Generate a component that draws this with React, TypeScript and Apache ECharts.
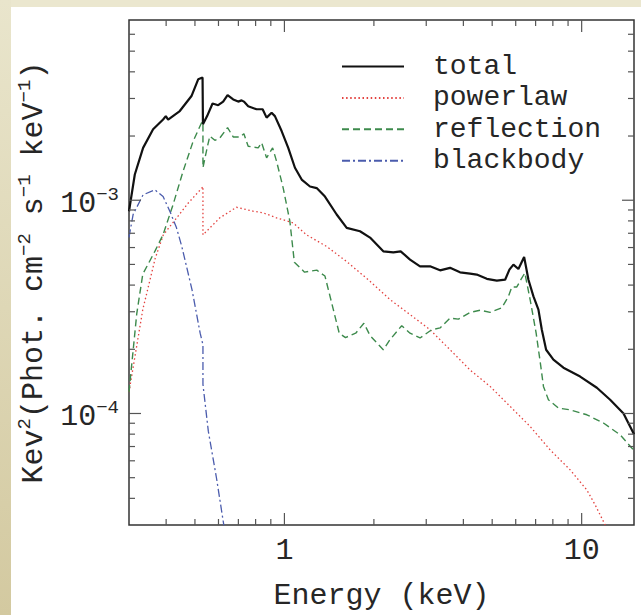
import React, { useEffect, useRef } from 'react';
import * as echarts from 'echarts';

const X_MIN = 0.3;
const X_MAX = 15;
const Y_MIN = 3e-5;
const Y_MAX = 7e-3;

const xMajorTicks = [1, 10];
const xMinorTicks = [0.4, 0.5, 0.6, 0.7, 0.8, 0.9, 2, 3, 4, 5, 6, 7, 8, 9];
const yMajorTicks = [1e-4, 1e-3];
const yMinorTicks = [
  4e-5, 5e-5, 6e-5, 7e-5, 8e-5, 9e-5,
  2e-4, 3e-4, 4e-4, 5e-4, 6e-4, 7e-4, 8e-4, 9e-4,
  2e-3, 3e-3, 4e-3, 5e-3, 6e-3,
];

const seriesNames = ['total', 'powerlaw', 'reflection', 'blackbody'];

const totalData: [number, number][] = [
  [0.3, 8.88e-4], [0.3138, 1.32e-3], [0.3346, 1.76e-3], [0.3616, 2.15e-3],
  [0.3907, 2.39e-3], [0.399, 2.48e-3], [0.4062, 2.39e-3], [0.4446, 2.62e-3],
  [0.4868, 3.08e-3], [0.5127, 3.69e-3], [0.5304, 3.76e-3], [0.532, 2.27e-3],
  [0.5495, 2.48e-3], [0.5731, 2.84e-3], [0.5986, 2.79e-3], [0.6222, 2.9e-3],
  [0.6438, 3.11e-3], [0.6725, 2.97e-3], [0.699, 2.9e-3], [0.7176, 2.94e-3],
  [0.7305, 2.9e-3], [0.7553, 2.76e-3], [0.806, 2.67e-3], [0.8447, 2.67e-3],
  [0.8711, 2.44e-3], [0.9055, 2.57e-3], [0.929, 2.48e-3], [0.9786, 2.11e-3],
  [1.03, 1.76e-3], [1.085, 1.42e-3], [1.143, 1.25e-3], [1.219, 1.16e-3],
  [1.284, 1.14e-3], [1.369, 1.04e-3], [1.499, 8.57e-4], [1.62, 7.42e-4],
  [1.796, 7.15e-4], [1.941, 6.68e-4], [2.151, 5.76e-4], [2.325, 5.7e-4],
  [2.461, 5.76e-4], [2.646, 5.27e-4], [2.859, 4.9e-4], [3.09, 4.9e-4],
  [3.339, 4.69e-4], [3.608, 4.82e-4], [3.898, 4.59e-4], [4.213, 4.53e-4],
  [4.437, 4.48e-4], [4.796, 4.28e-4], [5.183, 4.2e-4], [5.527, 4.24e-4],
  [5.714, 4.73e-4], [5.894, 4.99e-4], [6.127, 4.76e-4], [6.404, 5.42e-4],
  [6.622, 4.24e-4], [6.883, 3.54e-4], [7.154, 3.07e-4], [7.345, 2.47e-4],
  [7.594, 1.99e-4], [8.035, 1.79e-4], [8.683, 1.64e-4], [9.885, 1.49e-4],
  [11.25, 1.32e-4], [12.47, 1.16e-4], [13.83, 1.0e-4], [15.0, 8.0e-5],
];

const powerlawData: [number, number][] = [
  [0.3, 1.26e-4], [0.3338, 3.07e-4], [0.3675, 5.34e-4], [0.3914, 6.88e-4],
  [0.4305, 8.15e-4], [0.4732, 9.65e-4], [0.5304, 1.15e-3], [0.532, 1.16e-3],
  [0.532, 6.88e-4], [0.547, 7.15e-4], [0.6065, 8.27e-4], [0.69, 9.27e-4],
  [0.785, 8.88e-4], [0.848, 8.73e-4], [0.941, 8.27e-4], [1.071, 7.83e-4],
  [1.187, 6.88e-4], [1.39, 6.06e-4], [1.63, 5.12e-4], [1.941, 4.17e-4],
  [2.266, 3.42e-4], [2.646, 2.91e-4], [3.09, 2.47e-4], [3.608, 1.99e-4],
  [4.213, 1.6e-4], [4.919, 1.34e-4], [5.744, 1.08e-4], [6.709, 8.69e-5],
  [7.833, 6.75e-5], [9.148, 5.44e-5], [10.41, 4.38e-5], [11.1, 3.73e-5],
  [12.0, 3.0e-5],
];

const reflectionData: [number, number][] = [
  [0.3, 1.26e-4], [0.3187, 2.95e-4], [0.3338, 4.5e-4], [0.3675, 5.8e-4],
  [0.3907, 6.9e-4], [0.4222, 9.55e-4], [0.4563, 1.37e-3], [0.4931, 1.89e-3],
  [0.5263, 2.31e-3], [0.532, 2.33e-3], [0.532, 1.42e-3], [0.5495, 1.76e-3],
  [0.5612, 2.0e-3], [0.5834, 1.91e-3], [0.6065, 1.96e-3], [0.6438, 2.19e-3],
  [0.6725, 1.98e-3], [0.7084, 1.98e-3], [0.7305, 2.05e-3], [0.7553, 1.79e-3],
  [0.8161, 1.76e-3], [0.8381, 1.86e-3], [0.8711, 1.58e-3], [0.9127, 1.76e-3],
  [0.9413, 1.52e-3], [0.9907, 1.14e-3], [1.043, 7.97e-4], [1.08, 5.12e-4],
  [1.169, 4.6e-4], [1.285, 4.7e-4], [1.369, 4.41e-4], [1.529, 2.38e-4],
  [1.605, 2.27e-4], [1.737, 2.38e-4], [1.851, 2.65e-4], [1.941, 2.32e-4],
  [2.151, 1.99e-4], [2.266, 2.22e-4], [2.481, 2.58e-4], [2.646, 2.38e-4],
  [2.859, 2.26e-4], [3.131, 2.47e-4], [3.339, 2.52e-4], [3.608, 2.8e-4],
  [3.848, 2.77e-4], [4.213, 2.98e-4], [4.552, 3.05e-4], [4.919, 2.98e-4],
  [5.386, 3.13e-4], [5.67, 3.54e-4], [5.821, 3.92e-4], [6.051, 3.92e-4],
  [6.243, 4.24e-4], [6.439, 4.56e-4], [6.709, 3.42e-4], [7.029, 2.38e-4],
  [7.289, 1.66e-4], [7.438, 1.34e-4], [7.73, 1.16e-4], [8.355, 1.06e-4],
  [9.148, 1.04e-4], [10.41, 9.86e-5], [11.84, 9.02e-5], [13.48, 7.94e-5],
  [15.0, 6.7e-5],
];

const blackbodyData: [number, number][] = [
  [0.3, 6.7e-4], [0.3097, 8.57e-4], [0.3346, 1.06e-3], [0.3664, 1.12e-3],
  [0.3907, 1.04e-3], [0.4116, 8.88e-4], [0.4335, 7.42e-4], [0.4517, 6.06e-4],
  [0.4889, 3.8e-4], [0.5206, 2.38e-4], [0.532, 2.1e-4], [0.532, 1.37e-4],
  [0.5546, 8.26e-5], [0.591, 4.97e-5], [0.6255, 2.99e-5],
];

const FONT = '"Liberation Mono", "DejaVu Sans Mono", monospace';
const TEXT = '#262626';
const TICK = { stroke: '#555', lineWidth: 1.2 };

const isPow10 = (v: number) => {
  const e = Math.log10(v);
  return Math.abs(e - Math.round(e)) < 1e-6;
};

export default function App() {
  const ref = useRef<HTMLDivElement>(null);

  useEffect(() => {
    if (!ref.current) return;
    const chart = echarts.init(ref.current, undefined, { renderer: 'svg' });

    const xTickData = [
      ...xMinorTicks.map((v) => [v, Y_MIN, 6]),
      ...xMajorTicks.map((v) => [v, Y_MIN, 12]),
    ];
    const yTickData = [
      ...yMinorTicks.map((v) => [X_MIN, v, 6]),
      ...yMajorTicks.map((v) => [X_MIN, v, 12]),
    ];

    const option: any = {
      animation: false,
      backgroundColor: '#ffffff',
      graphic: [
        { type: 'rect', shape: { x: 0, y: 0, width: 641, height: 7 }, style: { fill: '#ebe7cf' } },
        {
          type: 'rect',
          shape: { x: 0, y: 0, width: 11, height: 615 },
          style: {
            fill: new echarts.graphic.LinearGradient(0, 0, 0, 1, [
              { offset: 0, color: '#e9e5cc' },
              { offset: 1, color: '#d3c9a0' },
            ]),
          },
        },
      ],
      grid: {
        left: 129,
        top: 20,
        width: 505,
        height: 505,
        show: true,
        backgroundColor: '#ffffff',
        borderColor: '#333',
        borderWidth: 1.5,
        containLabel: false,
        outerBoundsMode: 'none',
      },
      legend: {
        data: seriesNames,
        orient: 'vertical',
        left: 341,
        top: 51,
        padding: 0,
        itemWidth: 62,
        itemHeight: 14,
        itemGap: 0.4,
        selectedMode: false,
        itemStyle: { opacity: 0, borderWidth: 0 },
        textStyle: {
          fontFamily: FONT,
          fontSize: 28,
          lineHeight: 31,
          color: TEXT,
          padding: [0, 0, 0, 24],
        },
      },
      xAxis: {
        type: 'log',
        logBase: 10,
        min: X_MIN,
        max: X_MAX,
        name: 'Energy (keV)',
        nameLocation: 'middle',
        nameGap: 56,
        nameTextStyle: { fontFamily: FONT, fontSize: 30, color: TEXT },
        axisLine: { show: false },
        axisTick: { show: false },
        splitLine: { show: false },
        minorTick: { show: false },
        axisLabel: {
          margin: 11,
          fontFamily: FONT,
          fontSize: 30,
          color: TEXT,
          showMinLabel: false,
          showMaxLabel: false,
          formatter: (v: number) => (isPow10(v) ? String(Math.round(v)) : ''),
        },
      },
      yAxis: {
        type: 'log',
        logBase: 10,
        min: Y_MIN,
        max: Y_MAX,
        name: '{a|Kev}{s|2}{a|(Phot. cm}{s|−2}{a| s}{s|−1}{a| keV}{s|−1}{a|)}',
        nameLocation: 'middle',
        nameRotate: 90,
        nameGap: 65,
        nameTextStyle: {
          fontFamily: FONT,
          fontSize: 30,
          color: TEXT,
          rich: {
            a: { fontFamily: FONT, fontSize: 30, lineHeight: 30, color: TEXT, padding: [7, 0, 0, 0] },
            s: { fontFamily: FONT, fontSize: 19, lineHeight: 19, color: TEXT, verticalAlign: 'top' },
          },
        },
        axisLine: { show: false },
        axisTick: { show: false },
        splitLine: { show: false },
        minorTick: { show: false },
        axisLabel: {
          margin: 10,
          showMinLabel: false,
          showMaxLabel: false,
          formatter: (v: number) => {
            if (!isPow10(v)) return '';
            const e = Math.round(Math.log10(v));
            return `{b|10}{s|${e < 0 ? '−' : ''}${Math.abs(e)}}`;
          },
          rich: {
            b: { fontFamily: FONT, fontSize: 30, lineHeight: 30, color: TEXT, padding: [7, 0, 0, 0] },
            s: { fontFamily: FONT, fontSize: 19, lineHeight: 19, color: TEXT, verticalAlign: 'top' },
          },
        },
      },
      series: [
        {
          type: 'custom',
          silent: true,
          clip: false,
          z: 10,
          encode: { x: 0, y: 1 },
          data: xTickData,
          renderItem: (_p: any, api: any) => {
            const v = api.value(0);
            const len = api.value(2);
            const b = api.coord([v, Y_MIN]);
            const t = api.coord([v, Y_MAX]);
            return {
              type: 'group',
              children: [
                { type: 'line', shape: { x1: b[0], y1: b[1], x2: b[0], y2: b[1] - len }, style: TICK },
                { type: 'line', shape: { x1: t[0], y1: t[1], x2: t[0], y2: t[1] + len }, style: TICK },
              ],
            };
          },
        },
        {
          type: 'custom',
          silent: true,
          clip: false,
          z: 10,
          encode: { x: 0, y: 1 },
          data: yTickData,
          renderItem: (_p: any, api: any) => {
            const v = api.value(1);
            const len = api.value(2);
            const l = api.coord([X_MIN, v]);
            const r = api.coord([X_MAX, v]);
            return {
              type: 'group',
              children: [
                { type: 'line', shape: { x1: l[0], y1: l[1], x2: l[0] + len, y2: l[1] }, style: TICK },
                { type: 'line', shape: { x1: r[0], y1: r[1], x2: r[0] - len, y2: r[1] }, style: TICK },
              ],
            };
          },
        },
        {
          name: 'powerlaw',
          type: 'line',
          data: powerlawData,
          symbol: 'none',
          showSymbol: false,
          lineStyle: { color: '#e3423f', width: 1.3, type: [1.5, 2.6] },
          itemStyle: { color: '#e3423f' },
          z: 3,
        },
        {
          name: 'reflection',
          type: 'line',
          data: reflectionData,
          symbol: 'none',
          showSymbol: false,
          lineStyle: { color: '#3d8a4c', width: 1.4, type: [7, 4] },
          itemStyle: { color: '#3d8a4c' },
          z: 3,
        },
        {
          name: 'blackbody',
          type: 'line',
          data: blackbodyData,
          symbol: 'none',
          showSymbol: false,
          lineStyle: { color: '#4b5cad', width: 1.3, type: [8, 3, 2, 3] },
          itemStyle: { color: '#4b5cad' },
          z: 3,
        },
        {
          name: 'total',
          type: 'line',
          data: totalData,
          symbol: 'none',
          showSymbol: false,
          lineStyle: { color: '#111', width: 2.2, type: 'solid' },
          itemStyle: { color: '#111' },
          z: 4,
        },
      ],
    };

    chart.setOption(option);
    return () => chart.dispose();
  }, []);

  return (
    <div
      ref={ref}
      style={{ position: 'absolute', left: 0, top: 0, width: 641, height: 615 }}
    />
  );
}
